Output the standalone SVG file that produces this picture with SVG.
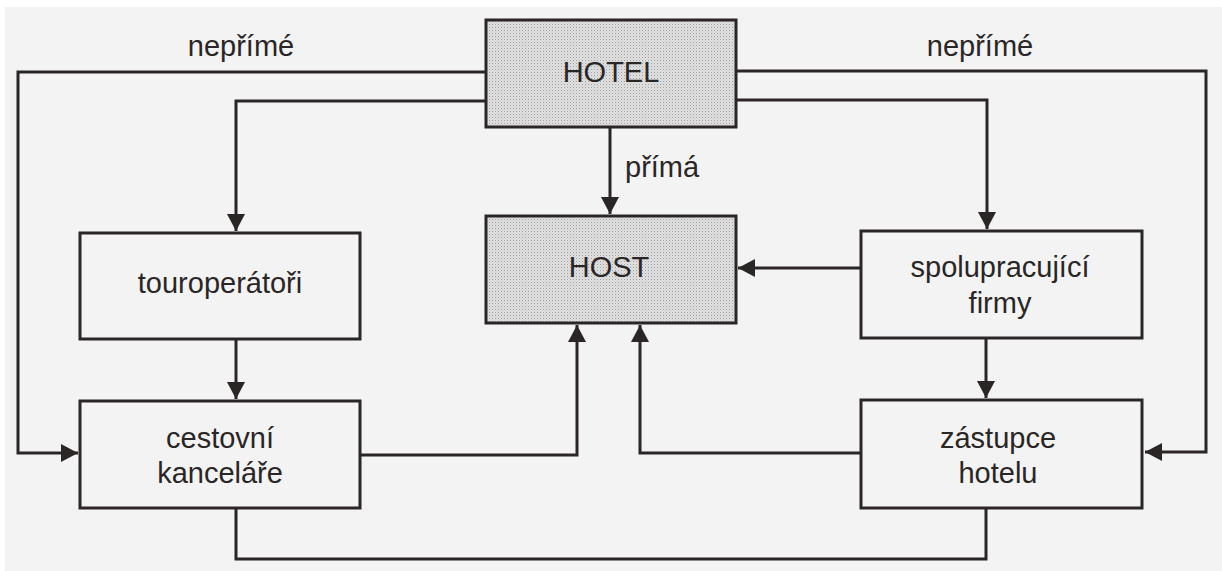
<svg xmlns="http://www.w3.org/2000/svg" width="1222" height="571" viewBox="0 0 1222 571">
  <style>
    .shaded { fill: url(#stipple); stroke: #2a2626; stroke-width: 3; }
    .plain { fill: #f3f3f3; stroke: #2a2626; stroke-width: 3; }
    .edge { fill: none; stroke: #2a2626; stroke-width: 3; }
    .arrow { marker-end: url(#head); }
    text { font-family: "Liberation Sans", Arial, sans-serif; font-size: 29px; fill: #2a2626; }
    .c { text-anchor: middle; }
  </style>
  <defs>
    <pattern id="stipple" patternUnits="userSpaceOnUse" width="3" height="3">
      <rect width="3" height="3" fill="#e2e2e2"/>
      <rect width="1" height="1" fill="#9c9c9c"/>
      <rect x="1.5" y="1.5" width="1" height="1" fill="#bdbdbd"/>
    </pattern>
    <marker id="head" markerUnits="userSpaceOnUse" markerWidth="18" markerHeight="20" refX="17" refY="10" orient="auto" viewBox="0 0 18 20">
      <path d="M0,1 L17,10 L0,19 z" fill="#2a2626"/>
    </marker>
  </defs>

  <rect width="1222" height="571" fill="#ffffff"/>
  <rect x="5" y="7" width="1217" height="564" fill="#f3f3f3"/>

  <g id="connectors">
    <path class="edge arrow" d="M486,72 H18 V453 H78"/>
    <path class="edge arrow" d="M486,101 H236 V231"/>
    <path class="edge arrow" d="M610,127 V214"/>
    <path class="edge arrow" d="M736,71 H1206 V452 H1145"/>
    <path class="edge arrow" d="M736,100 H987 V229"/>
    <path class="edge arrow" d="M861,268 H738"/>
    <path class="edge arrow" d="M236,339 V399"/>
    <path class="edge arrow" d="M360,455 H577 V325"/>
    <path class="edge arrow" d="M986,338 V398"/>
    <path class="edge arrow" d="M861,453 H640 V325"/>
    <path class="edge" d="M236,508 V559 H986 V508"/>
    <text x="625" y="177">přímá</text>
    <text class="c" x="241" y="56">nepřímé</text>
    <text class="c" x="980" y="56">nepřímé</text>
  </g>

  <g id="hotel">
    <rect class="shaded" x="486" y="20" width="250" height="107"/>
    <text class="c" x="611" y="82">HOTEL</text>
  </g>
  <g id="host">
    <rect class="shaded" x="486" y="216" width="250" height="107"/>
    <text class="c" x="609" y="277">HOST</text>
  </g>
  <g id="touroperatori">
    <rect class="plain" x="80" y="233" width="280" height="106"/>
    <text class="c" x="220" y="293">touroperátoři</text>
  </g>
  <g id="cestovni-kancelare">
    <rect class="plain" x="80" y="401" width="280" height="107"/>
    <text class="c" x="220" y="448">cestovní</text>
    <text class="c" x="220" y="483">kanceláře</text>
  </g>
  <g id="spolupracujici-firmy">
    <rect class="plain" x="861" y="231" width="281" height="107"/>
    <text class="c" x="1000" y="277">spolupracující</text>
    <text class="c" x="1000" y="313">firmy</text>
  </g>
  <g id="zastupce-hotelu">
    <rect class="plain" x="861" y="400" width="281" height="108"/>
    <text class="c" x="998" y="448">zástupce</text>
    <text class="c" x="998" y="483">hotelu</text>
  </g>
</svg>
